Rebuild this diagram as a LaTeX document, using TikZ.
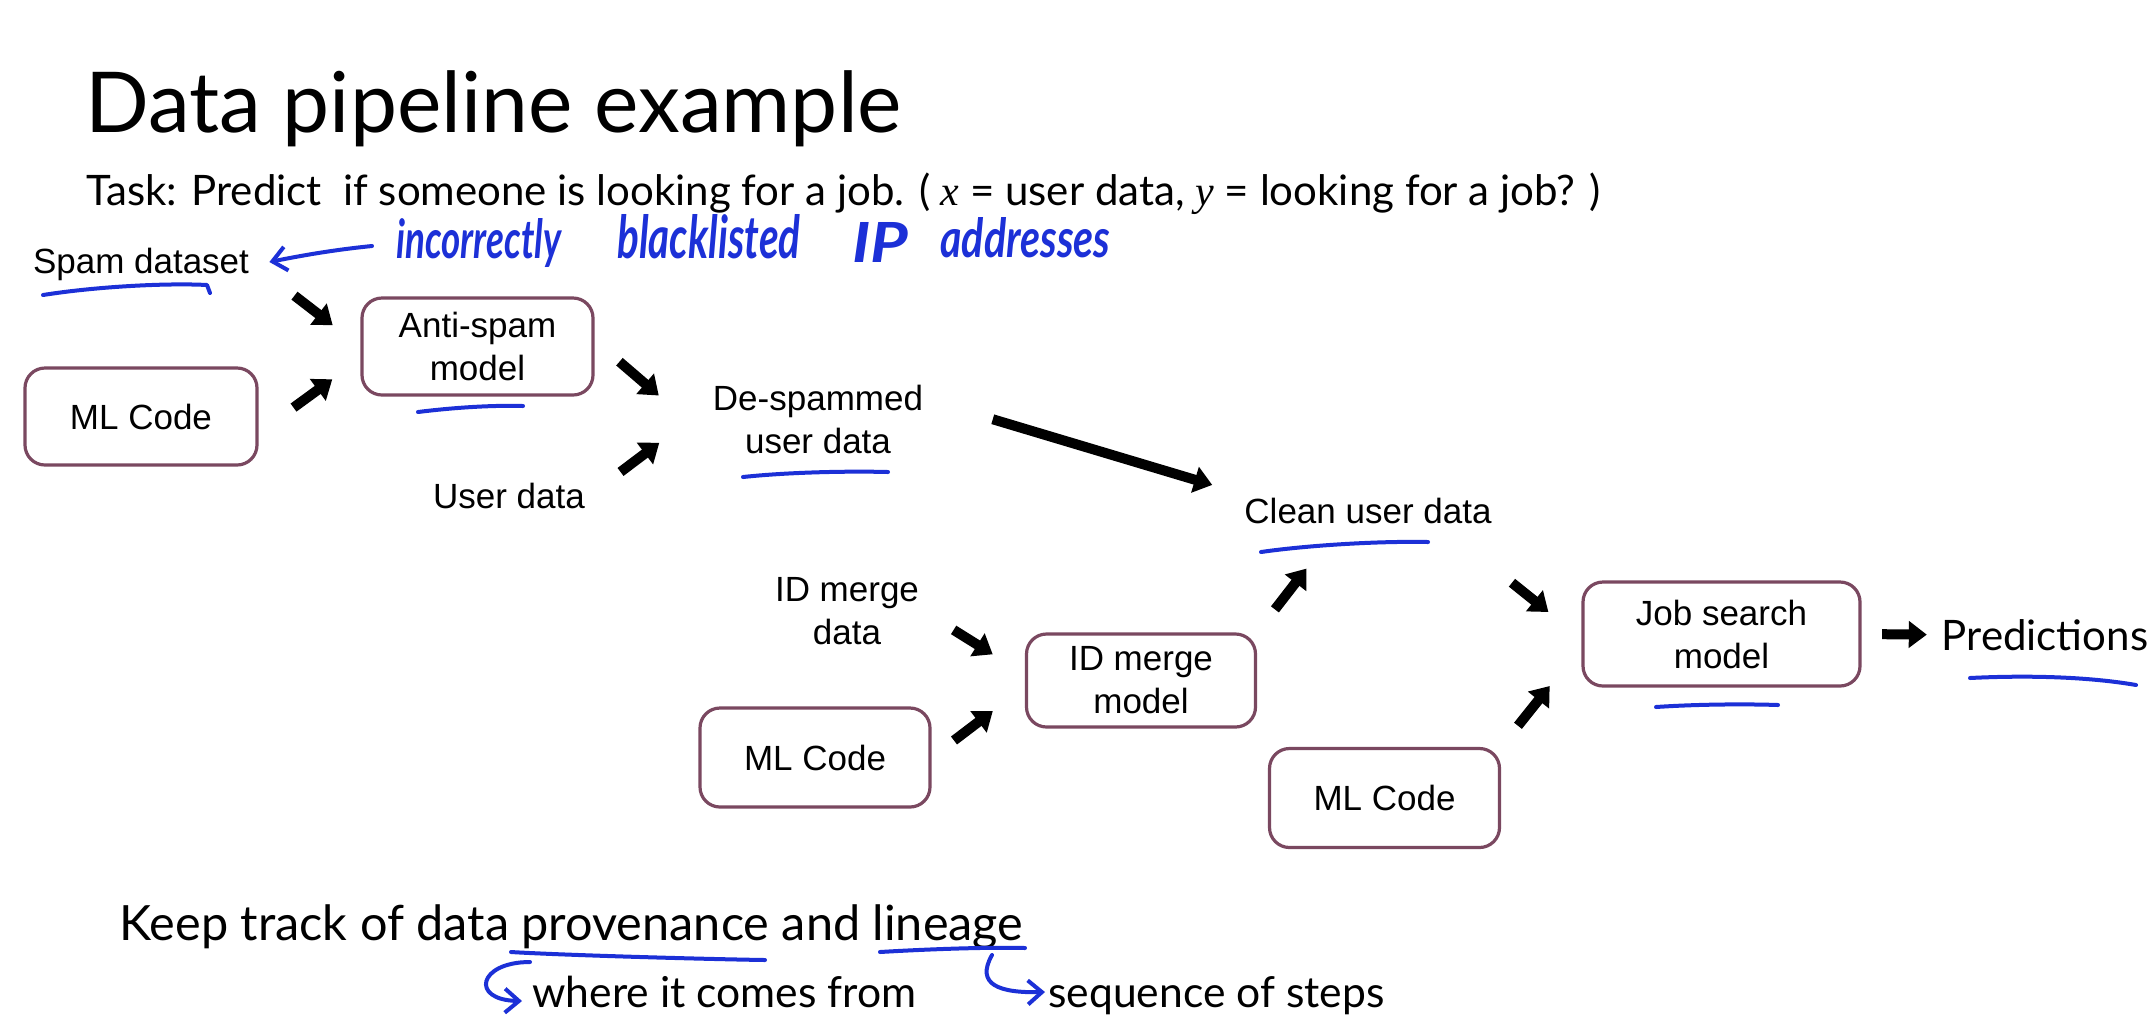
\documentclass[tikz,border=0pt]{standalone}
\usepackage{fontspec}
\setmainfont{Lato}
\newfontfamily\arialf{Liberation Sans}
\newfontfamily\timesf{Liberation Serif}
\usetikzlibrary{arrows.meta,calc}
\definecolor{boxline}{RGB}{122,72,96}
\definecolor{pen}{RGB}{28,48,215}
\newcommand\diagfont{\arialf\fontsize{17.5}{21.5}\selectfont}
\newcommand\inkfont{\color{pen}\bfseries\itshape}
\begin{document}
\begin{tikzpicture}[x=0.5pt,y=-0.5pt,
  stage/.style={draw=boxline, line width=1.6pt, rounded corners=10pt, align=center,
                font=\diagfont, inner sep=0pt, fill=white},
  lbl/.style={align=center, font=\diagfont, inner sep=2pt},
  slide/.style={anchor=base west, inner sep=0pt},
  flow/.style={line width=5pt, -{Triangle[length=9pt,width=13pt]}},
  ink/.style={draw=pen, line width=2pt, line cap=round, line join=round},
  barb/.style={-{Straight Barb[length=7pt,width=12pt,line width=2pt]}},
  inkword/.style={anchor=base west, inner sep=0pt},
]
\useasboundingbox (0,0) rectangle (2156,1030);
\fill[white] (0,0) rectangle (2156,1030);

% --- headings -------------------------------------------------------
\node[slide, font=\fontsize{42}{50}\selectfont] (title) at (85,132) {Data pipeline example};
\node[slide, font=\fontsize{21}{25}\selectfont] (task) at (86,205)
  {Task: Predict\ \ if someone is looking for a job. ( {\timesf\itshape x} = user data, {\timesf\itshape y} = looking for a job? )};

% --- pipeline stages -------------------------------------------------
\node[stage, minimum width=116pt,   minimum height=48.5pt] (ml1)  at (141,416.5)  {ML Code};
\node[stage, minimum width=115.5pt, minimum height=48.5pt] (anti) at (477.5,346.5) {Anti-spam\\model};
\node[stage, minimum width=114.5pt, minimum height=46.5pt] (idm)  at (1141,680.5) {ID merge\\model};
\node[stage, minimum width=115pt,   minimum height=49.5pt] (ml2)  at (815,757.5)  {ML Code};
\node[stage, minimum width=115pt,   minimum height=49.5pt] (ml3)  at (1384.5,798) {ML Code};
\node[stage, minimum width=138.5pt, minimum height=52pt]   (job)  at (1721.5,634) {Job search\\model};

% --- data artefacts --------------------------------------------------
\node[lbl, anchor=base] (spam)  at (141,273)  {Spam dataset};
\node[lbl, anchor=base] (user)  at (509,508)  {User data};
\node[lbl] (desp) at (818,419) {De-spammed\\user data};
\node[lbl] (idmd) at (847,611) {ID merge\\data};
\node[lbl, anchor=base] (clean) at (1368,523) {Clean user data};
\node[lbl, anchor=base, font=\fontsize{21}{25}\selectfont] (pred) at (2045,650) {Predictions};

% --- flow arrows -----------------------------------------------------
\draw[flow] ($(spam.east)!.384!(anti.west)$) -- ($(spam.east)!.741!(anti.west)$);
\draw[flow] ($(ml1.-8)!.343!(anti.186)$) -- ($(ml1.-8)!.724!(anti.186)$);
\draw[flow] ($(anti.3)!.218!(desp.190)$) -- ($(anti.3)!.563!(desp.190)$);
\draw[flow] ($(user.east)!.262!(desp.173)$) -- ($(user.east)!.587!(desp.173)$);
\draw[flow] ($(desp.10)!.209!(clean.north west)$) -- ($(desp.10)!.911!(clean.north west)$);
\draw[flow] ($(idmd.east)!.298!(idm.177)$) -- ($(idmd.east)!.683!(idm.177)$);
\draw[flow] ($(ml2.east)!.24!(idm.183)$) -- ($(ml2.east)!.656!(idm.183)$);
\draw[flow] ($(idm.north east)!.22!(clean.210)$) -- ($(idm.north east)!.61!(clean.210)$);
\draw[flow] ([shift={(16,55)}]clean.south east) -- ([shift={(-33,-22)}]job.west);
\draw[flow] ($(ml3.north east)!.21!(job.185)$) -- ($(ml3.north east)!.605!(job.185)$);
\draw[flow] ($(job.east)!.27!(pred.west)$) -- ($(job.east)!.86!(pred.west)$);

% --- takeaway --------------------------------------------------------
\node[slide, font=\fontsize{24.3}{29}\selectfont] (keep) at (119,940) {Keep track of data provenance and lineage};
\node[slide, font=\fontsize{21.3}{25}\selectfont] (where) at (532,1007) {where it comes from};
\node[slide, font=\fontsize{21.3}{25}\selectfont] (seq) at (1048,1007) {sequence of steps};

% --- pen annotations -------------------------------------------------
\node[inkword] (hw1) at (396,258) {\inkfont\resizebox{82.5pt}{20pt}{incorrectly}};
\node[inkword] (hw2) at (617,258) {\inkfont\resizebox{91.5pt}{22pt}{blacklisted}};
\node[inkword] (hw3) at (852,262) {\inkfont\resizebox{28pt}{20pt}{IP}};
\node[inkword] (hw4) at (940,257) {\inkfont\resizebox{85pt}{20pt}{addresses}};
\draw[ink, barb] ([shift={(-24,-12)}]hw1.base west) .. controls +(-40,4) and +(30,-6) .. ([shift={(16,-11)}]spam.base east);

% underlines
\draw[ink] (43,295) .. controls (100,286) and (170,283) .. (207,285) -- (210,293);
\draw[ink] (418,412) .. controls (450,408) and (490,405) .. (523,406);
\draw[ink] (743,477) .. controls (790,472) and (850,471) .. (888,472);
\draw[ink] (1261,552) .. controls (1310,545) and (1380,541) .. (1428,542);
\draw[ink] (1656,707) .. controls (1700,704) and (1750,704) .. (1778,705);
\draw[ink] (1970,678) .. controls (2030,675) and (2090,677) .. (2136,685);
\draw[ink] (511,952) .. controls (560,955) and (700,959) .. (765,960);
\draw[ink] (880,952) .. controls (930,949) and (990,947) .. (1025,948);

% provenance / lineage pointers
\draw[ink, barb] (530,962) .. controls (478,962) and (470,1000) .. ([shift={(-10,-6)}]where.base west);
\draw[ink, barb] (992,955) .. controls (975,985) and (1000,993) .. ([shift={(-3,-15)}]seq.base west);
\end{tikzpicture}
\end{document}
